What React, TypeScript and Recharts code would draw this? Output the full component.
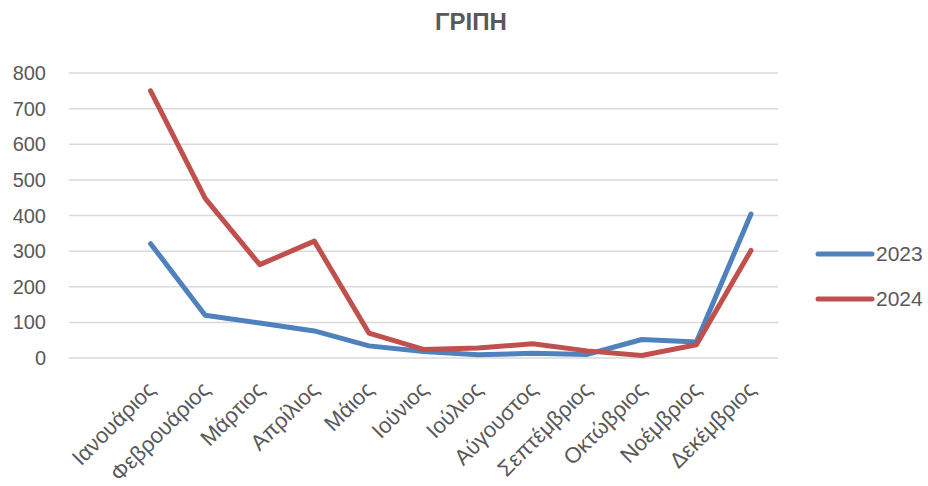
import React from "react";
import { CartesianGrid, Line, LineChart, XAxis, YAxis } from "recharts";

const months = [
  "",
  "Ιανουάριος",
  "Φεβρουάριος",
  "Μάρτιος",
  "Απρίλιος",
  "Μάιος",
  "Ιούνιος",
  "Ιούλιος",
  "Αύγουστος",
  "Σεπτέμβριος",
  "Οκτώβριος",
  "Νοέμβριος",
  "Δεκέμβριος",
];
const flu2023 = [null, 321, 120, 98, 76, 34, 18, 9, 13, 10, 52, 45, 404];
const flu2024 = [null, 750, 448, 262, 328, 70, 24, 28, 40, 20, 7, 37, 302];
const yTicks = [0, 100, 200, 300, 400, 500, 600, 700, 800];

const series = [
  { key: "2023", color: "#4F81BD" },
  { key: "2024", color: "#C0504D" },
];

const data = months.map((m, i) => ({ month: m, "2023": flu2023[i], "2024": flu2024[i] }));

const font = "'Liberation Sans', Arial, sans-serif";
const textColor = "#595959";

function MonthTick({ x, y, payload }: any) {
  if (!payload.value) return null;
  return (
    <g transform={`translate(${x + 6},${y + 33})`}>
      <text textAnchor="end" transform="rotate(-45)" fontSize={22} fontFamily={font} fill={textColor}>
        {payload.value}
      </text>
    </g>
  );
}

function SeriesLegend() {
  return (
    <div style={{ position: "absolute", left: 814, top: 231, fontFamily: font }}>
      {series.map((s) => (
        <div key={s.key} style={{ display: "flex", alignItems: "center", height: 45 }}>
          <svg width={62} height={10}>
            <line x1={4} y1={5} x2={58} y2={5} stroke={s.color} strokeWidth={5} strokeLinecap="round" />
          </svg>
          <span style={{ fontSize: 21, color: textColor }}>{s.key}</span>
        </div>
      ))}
    </div>
  );
}

export default function App() {
  return (
    <div style={{ position: "absolute", left: 0, top: 0, width: 928, height: 486, background: "#fff" }}>
      <div
        style={{
          position: "absolute",
          top: 8,
          left: 0,
          width: 942,
          textAlign: "center",
          fontFamily: font,
          fontWeight: "bold",
          fontSize: 24,
          color: textColor,
        }}
      >
        ΓΡΙΠΗ
      </div>
      <LineChart width={928} height={486} data={data} margin={{ top: 73, right: 150, bottom: 0, left: 0 }}>
        <CartesianGrid stroke="#d9d9d9" strokeWidth={1.5} vertical={false} />
        <XAxis
          dataKey="month"
          axisLine={false}
          tickLine={false}
          tickSize={0}
          tickMargin={0}
          height={128}
          interval={0}
          padding={{ left: 27, right: 27 }}
          tick={<MonthTick />}
        />
        <YAxis
          domain={[0, 800]}
          ticks={yTicks}
          interval={0}
          width={69}
          axisLine={false}
          tickLine={false}
          tickMargin={17}
          tick={{ fontSize: 20, fill: textColor, fontFamily: font }}
        />
        {series.map((s) => (
          <Line
            key={s.key}
            dataKey={s.key}
            stroke={s.color}
            strokeWidth={5}
            strokeLinecap="round"
            strokeLinejoin="round"
            dot={false}
            activeDot={false}
            isAnimationActive={false}
          />
        ))}
      </LineChart>
      <SeriesLegend />
    </div>
  );
}
